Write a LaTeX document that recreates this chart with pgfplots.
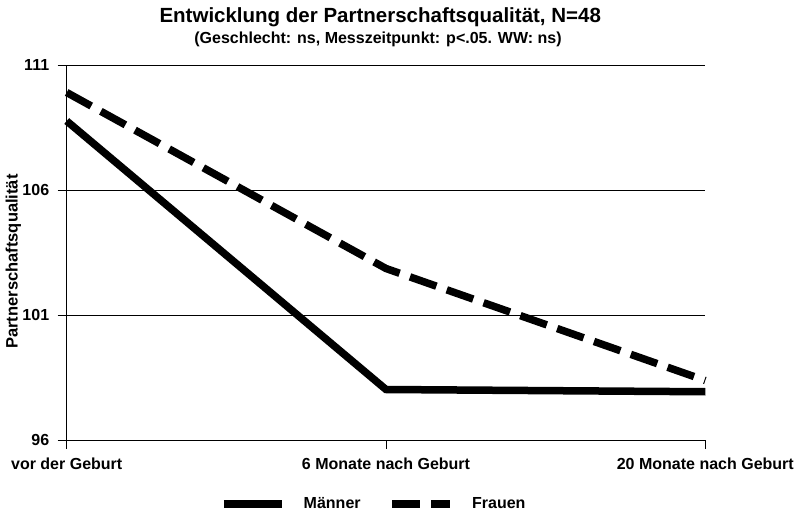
\documentclass[border=0pt]{standalone}
\usepackage{fontspec}
\setmainfont{Liberation Sans}
\usepackage{pgfplots}
\pgfplotsset{compat=1.18}
\begin{document}
\begin{tikzpicture}
\path[use as bounding box] (0pt,0pt) rectangle (801pt,512pt);
\begin{axis}[
  at={(66.7pt,72pt)}, anchor=south west,
  scale only axis, width=638.6pt, height=375pt,
  xmin=0, xmax=2, ymin=96, ymax=111,
  xtick={0,1,2},
  xticklabels={vor der Geburt,6 Monate nach Geburt,20 Monate nach Geburt},
  ytick={96,101,106,111},
  axis x line*=bottom, axis y line*=left,
  axis line style={line width=0.8pt},
  ymajorgrids, grid style={black, line width=0.8pt},
  major tick length=9pt, tick align=outside,
  tick style={black, line width=0.8pt},
  ticklabel style={font=\fontsize{16}{19}\selectfont\bfseries},
  /pgf/number format/assume math mode=true,
  xticklabel style={yshift=-5pt},
  yticklabel style={xshift=-5pt},
  ylabel={Partnerschaftsqualität},
  ylabel style={at={(axis description cs:-0.0836,0.476)}, anchor=center, font=\fontsize{16.5}{19}\selectfont\bfseries},
  clip=false,
  legend columns=2,
  legend style={at={(axis description cs:0.2401,-0.1707)}, anchor=west, draw=none, fill=none, inner sep=0pt,
    font=\fontsize{16}{19}\selectfont\bfseries, nodes={inner xsep=10pt},
    /tikz/every even column/.append style={column sep=18pt}},
  legend image code/.code={\draw[#1] (0pt,0pt) -- (58pt,0pt); \path (66pt,0pt);},
]
\addplot[black, line width=7.5pt] coordinates {(0,108.76) (1,98.02) (2,97.93)};
\addlegendentry{Männer}
\addplot[black, line width=7.5pt, dash pattern=on 28pt off 11pt] coordinates {(0,109.9) (1,102.86) (2,98.38)};
\addlegendentry{Frauen}
\node[anchor=base, font=\fontsize{20.5}{24}\selectfont\bfseries] at (axis description cs:0.491,1.1128) {Entwicklung der Partnerschaftsqualität, N=48};
\node[anchor=base, font=\fontsize{16}{19}\selectfont\bfseries] at (axis description cs:0.4875,1.0579) {(Geschlecht: ns, Messzeitpunkt: p<.05. WW: ns)};
\end{axis}
\end{tikzpicture}
\end{document}
